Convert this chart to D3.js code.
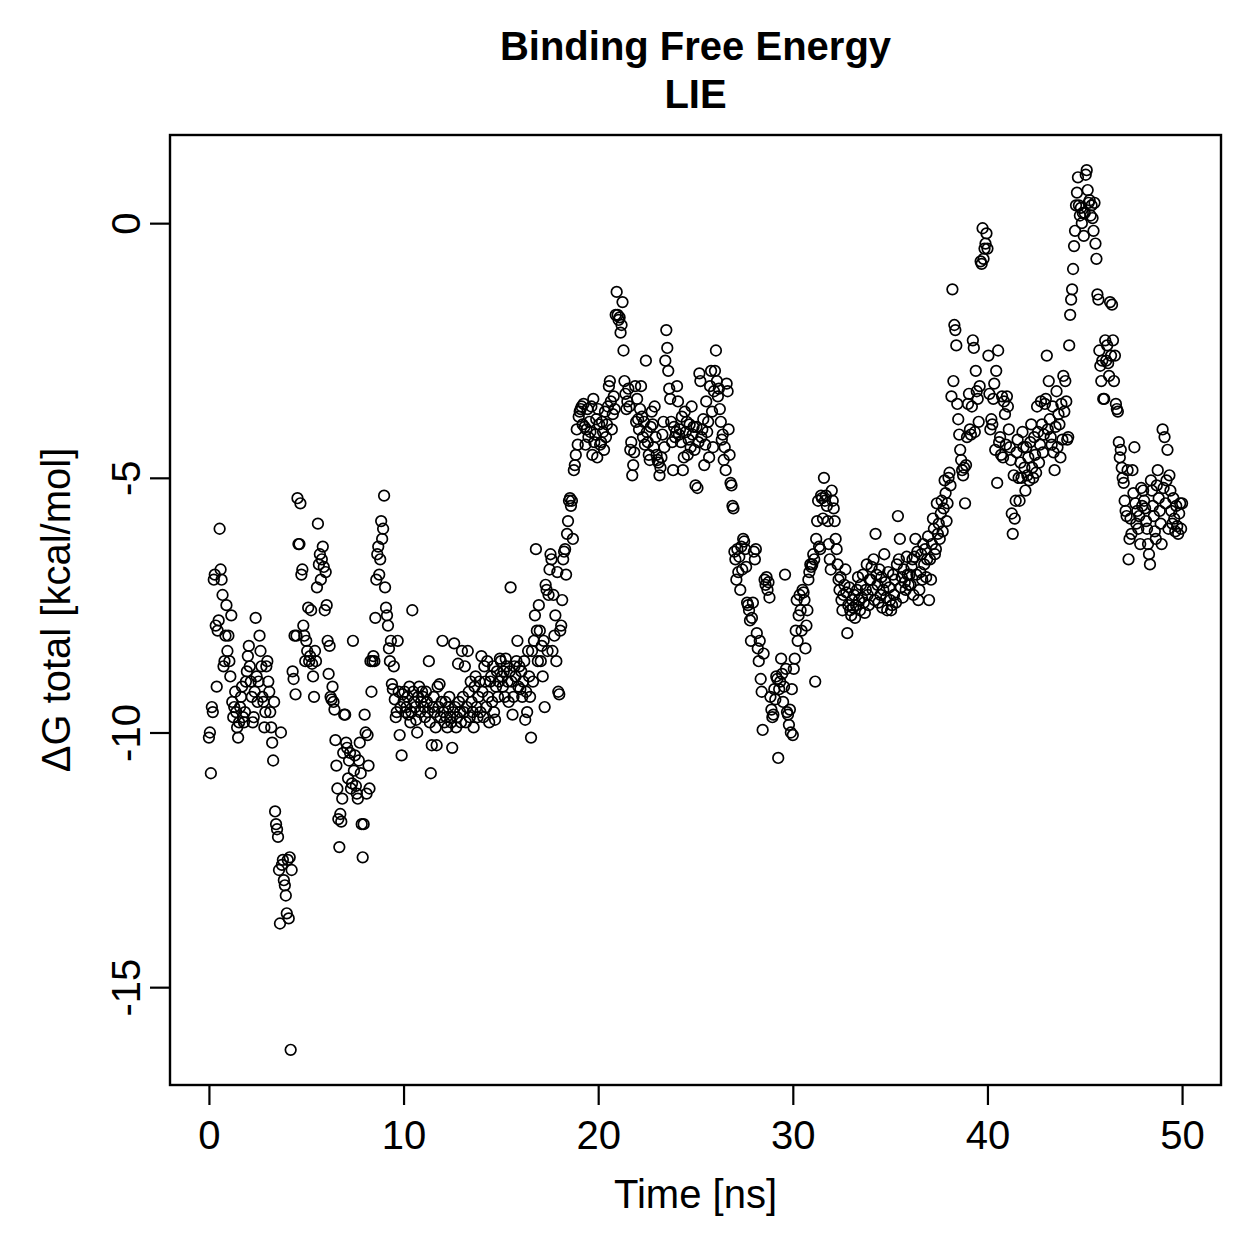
<!DOCTYPE html>
<html>
<head>
<meta charset="utf-8">
<title>Binding Free Energy - LIE</title>
<script src="https://cdn.jsdelivr.net/npm/d3@7"></script>
<style>
  body { margin: 0; background: #fff; }
  text { font-family: "Liberation Sans", Arial, Helvetica, sans-serif; }
</style>
</head>
<body>
<div id="chart"></div>
<script>
// LIE binding free energy trace, one frame every 0.05 ns
var timeStep = 0.05;
var xTicks = [0, 10, 20, 30, 40, 50];
var yTicks = [0, -5, -10, -15];
var titleLines = ["Binding Free Energy", "LIE"];
var xLabel = "Time [ns]";
var yLabel = "\u0394G total [kcal/mol]";

// dG values, 20 per ns
var dG = [
  -10.1, -10.0, -10.8, -9.5, -9.6, -7.0, -6.9, -7.9, -9.1, -8.0, -7.8, -6.0, -6.8, -7.0, -7.3, -8.7, -8.6, -8.1, -7.5, -8.4,
  -8.1, -8.6, -8.9, -7.7, -9.4, -9.7, -9.5, -9.2, -9.6, -9.9, -10.1, -9.8, -9.5, -9.3, -9.1, -9.7, -9.8, -9.6, -9.0, -8.8,
  -8.5, -8.3, -8.7, -9.0, -9.3, -9.8, -9.7, -9.2, -7.75, -8.9, -9.4, -9.0, -8.1, -8.4, -8.7, -9.3, -9.4, -9.9, -9.6, -8.7,
  -8.6, -9.0, -9.2, -9.6, -9.9, -10.2, -10.55, -9.4, -11.55, -11.8, -11.9, -12.05, -12.7, -13.75, -10.0, -12.6, -12.5, -12.9, -13.0, -13.2,
  -13.55, -12.5, -13.65, -12.45, -16.23, -12.7, -8.8, -8.95, -8.1, -9.25, -8.1, -5.4, -6.3, -6.3, -5.5, -6.9, -6.8, -7.9, -8.1, -8.6,
  -8.2, -8.4, -7.55, -8.6, -8.5, -7.6, -8.65, -8.9, -9.3, -8.4, -8.6, -7.15, -5.9, -6.7, -6.5, -7.0, -6.6, -6.35, -6.75, -7.6,
  -6.85, -7.5, -8.2, -8.85, -8.3, -9.3, -9.35, -9.1, -9.4, -9.55, -10.15, -10.65, -11.1, -11.7, -12.25, -11.6, -11.75, -11.3, -10.4, -9.65,
  -9.65, -10.2, -10.3, -10.9, -10.55, -10.4, -11.1, -11.0, -8.2, -10.75, -10.45, -11.05, -11.2, -11.3, -10.55, -10.2, -10.8, -11.8, -12.45, -11.8,
  -9.65, -10.0, -11.2, -10.05, -10.65, -11.1, -8.6, -9.2, -8.6, -8.5, -8.6, -7.75, -7.0, -6.5, -6.35, -6.9, -6.6, -5.85, -6.2, -6.0,
  -5.35, -7.15, -7.55, -7.7, -7.9, -8.35, -8.6, -8.2, -9.05, -9.15, -8.7, -9.35, -9.7, -9.6, -8.2, -9.2, -10.05, -9.5, -10.45, -9.25,
  -9.4, -9.2, -9.6, -9.5, -9.3, -9.65, -9.1, -9.8, -9.6, -7.6, -9.2, -9.4, -9.5, -9.75, -10.0, -9.3, -9.1, -9.6, -9.4, -9.2,
  -9.3, -9.5, -9.7, -9.2, -9.4, -9.6, -8.6, -9.8, -10.8, -10.25, -9.5, -9.3, -9.6, -9.9, -10.25, -9.1, -9.5, -9.05, -9.7, -9.4,
  -8.2, -9.6, -9.8, -9.4, -9.7, -9.9, -9.5, -9.3, -9.7, -9.8, -10.3, -9.6, -8.25, -9.5, -9.9, -9.7, -8.65, -9.4, -9.6, -9.8,
  -8.4, -9.3, -9.6, -8.7, -9.8, -9.5, -8.4, -9.2, -9.7, -9.0, -9.4, -9.6, -9.9, -9.1, -8.9, -9.5, -9.7, -9.3, -9.0, -9.6,
  -8.5, -9.2, -9.7, -8.7, -9.0, -9.5, -8.6, -9.3, -9.8, -9.0, -8.9, -9.4, -8.7, -9.6, -9.75, -9.1, -8.8, -9.3, -9.0, -8.55,
  -8.6, -8.9, -9.1, -8.8, -9.3, -8.55, -8.7, -9.0, -9.4, -8.8, -7.15, -9.0, -9.65, -9.3, -8.7, -8.9, -8.6, -8.2, -9.1, -8.7,
  -9.15, -8.8, -9.3, -9.0, -8.6, -9.75, -9.2, -9.6, -8.4, -8.9, -9.3, -10.1, -8.4, -9.0, -8.2, -7.7, -6.4, -8.0, -8.6, -7.5,
  -8.0, -8.6, -8.3, -8.9, -8.2, -9.5, -7.1, -7.2, -8.4, -7.3, -6.8, -6.5, -6.6, -8.4, -7.3, -8.1, -7.7, -8.6, -6.85, -9.2,
  -9.25, -8.0, -7.9, -7.4, -6.6, -6.45, -6.4, -6.9, -6.1, -5.85, -5.45, -5.4, -5.55, -5.45, -6.2, -4.85, -4.75, -4.55, -4.05, -4.35,
  -3.8, -3.7, -3.65, -3.6, -3.95, -3.55, -4.0, -4.35, -4.05, -3.65, -4.2, -3.9, -4.1, -3.6, -4.55, -3.45, -4.3, -4.15, -3.85, -4.6,
  -3.65, -3.95, -4.35, -4.3, -3.9, -4.1, -4.45, -3.7, -4.2, -3.95, -3.6, -3.2, -3.1, -3.5, -4.05, -3.75, -3.4, -3.65, -1.8, -1.35,
  -1.8, -1.9, -1.85, -2.15, -2.0, -1.55, -2.5, -3.1, -3.35, -3.65, -3.5, -3.25, -3.6, -4.45, -4.3, -4.95, -4.75, -4.5, -3.2, -3.9,
  -3.45, -3.85, -4.05, -3.65, -3.2, -3.8, -4.2, -3.9, -4.35, -2.7, -4.1, -4.3, -4.55, -4.65, -4.0, -3.7, -3.95, -4.4, -3.6, -4.2,
  -4.55, -4.65, -4.7, -4.95, -4.8, -4.6, -4.15, -3.9, -4.4, -2.7, -2.1, -2.45, -2.9, -3.25, -3.45, -3.9, -4.3, -4.85, -4.0, -4.2,
  -4.1, -3.2, -3.5, -4.15, -4.05, -4.3, -3.8, -4.85, -4.6, -3.7, -4.1, -3.9, -4.55, -4.25, -3.95, -4.4, -3.6, -4.15, -4.0, -4.45,
  -5.15, -4.0, -5.2, -4.3, -2.95, -3.1, -4.2, -4.05, -3.85, -4.75, -4.35, -3.5, -4.1, -3.9, -4.6, -3.2, -2.9, -3.7, -4.4, -3.3,
  -2.9, -2.5, -3.1, -3.4, -3.25, -3.65, -3.9, -4.25, -4.15, -4.65, -4.4, -4.85, -3.15, -3.3, -4.05, -4.55, -5.1, -5.15, -5.55, -5.6,
  -6.45, -6.6, -7.0, -6.4, -6.85, -6.55, -7.2, -6.35, -6.8, -6.2, -6.25, -6.4, -6.75, -7.45, -7.5, -7.6, -7.8, -8.2, -7.75, -7.45,
  -6.45, -6.6, -6.4, -8.05, -8.35, -8.6, -8.2, -8.95, -9.2, -9.95, -8.45, -7.0, -7.1, -6.95, -7.2, -7.05, -7.35, -9.3, -9.55, -9.7,
  -9.65, -9.15, -9.35, -8.9, -8.95, -10.5, -9.15, -9.0, -8.55, -8.85, -9.4, -9.1, -6.9, -8.75, -9.6, -9.65, -9.85, -9.55, -10.0, -9.15,
  -10.05, -8.75, -8.55, -8.0, -7.4, -8.2, -7.7, -7.3, -7.6, -8.0, -7.2, -7.25, -7.4, -8.35, -7.9, -7.6, -7.0, -6.85, -6.7, -6.75,
  -6.7, -6.5, -6.6, -9.0, -6.2, -5.85, -5.45, -6.35, -6.4, -5.35, -5.4, -5.8, -5.0, -5.45, -5.35, -5.55, -5.85, -6.3, -6.6, -6.8,
  -5.25, -5.45, -5.6, -5.85, -6.2, -6.4, -6.7, -7.0, -7.2, -6.95, -7.4, -7.6, -7.3, -7.1, -6.8, -7.25, -8.05, -7.5, -7.15, -7.6,
  -7.7, -7.4, -7.55, -7.3, -7.75, -7.5, -7.2, -6.95, -7.4, -7.6, -7.1, -7.35, -6.9, -7.45, -7.65, -7.2, -6.7, -7.3, -7.5, -7.0,
  -7.0, -6.75, -7.2, -6.6, -7.4, -6.1, -6.9, -7.1, -7.45, -6.8, -7.3, -6.95, -7.55, -7.2, -6.5, -7.05, -7.35, -7.6, -6.85, -7.15,
  -7.4, -7.6, -7.5, -6.9, -7.3, -7.0, -7.45, -6.7, -5.75, -6.6, -6.2, -7.15, -6.95, -7.35, -6.8, -7.05, -7.2, -6.55, -6.9, -7.1,
  -6.9, -7.1, -6.75, -6.6, -7.3, -6.55, -6.2, -6.9, -6.45, -7.4, -7.2, -6.85, -6.5, -7.0, -6.3, -6.7, -6.4, -6.95, -6.6, -6.15,
  -7.4, -6.6, -7.0, -6.3, -5.8, -6.0, -6.5, -6.4, -5.5, -6.1, -5.9, -6.2, -5.7, -5.45, -6.05, -5.6, -5.05, -5.3, -5.85, -5.5,
  -5.0, -4.9, -5.15, -3.4, -1.3, -3.1, -2.0, -2.1, -2.4, -3.55, -3.85, -4.15, -4.45, -4.65, -4.85, -4.95, -4.8, -5.5, -4.75, -4.2,
  -3.55, -3.35, -4.05, -4.15, -3.6, -2.3, -2.45, -4.1, -2.9, -3.3, -3.45, -3.9, -3.2, -0.75, -0.8, -0.1, -0.7, -0.5, -0.4, -0.2,
  -0.5, -2.6, -3.35, -4.05, -3.85, -3.95, -3.45, -3.15, -4.45, -2.9, -5.1, -2.5, -4.3, -4.2, -4.55, -3.4, -4.6, -3.5, -3.75, -4.35,
  -3.4, -3.6, -4.05, -4.4, -4.65, -5.7, -6.1, -4.95, -5.8, -5.45, -4.5, -4.25, -5.0, -5.45, -4.7, -5.0, -4.1, -4.4, -4.8, -5.25,
  -4.4, -4.95, -4.6, -5.05, -4.3, -3.95, -4.8, -5.0, -4.2, -4.55, -4.9, -3.6, -4.1, -4.7, -4.35, -3.5, -3.95, -4.5, -4.15, -3.55,
  -3.45, -2.6, -4.05, -3.1, -3.85, -4.2, -4.35, -3.6, -4.5, -4.85, -4.0, -3.3, -4.4, -3.75, -3.95, -4.6, -3.55, -4.25, -3.0, -3.7,
  -3.1, -3.5, -4.25, -4.2, -2.4, -1.8, -1.5, -1.3, -0.9, -0.45, -0.15, 0.35, 0.6, 0.9, 0.35, 0.15, 0.3, 0.0, 0.2, -0.25,
  0.2, 0.95, 1.04, 0.65, 0.4, 0.45, 0.15, 0.35, 0.1, -0.15, 0.4, -0.4, -0.7, -1.4, -1.5, -2.5, -2.8, -3.1, -2.7, -3.45,
  -3.45, -2.3, -2.7, -2.4, -2.75, -3.0, -1.55, -2.6, -1.6, -2.3, -3.1, -2.6, -3.55, -3.65, -3.7, -4.3, -4.6, -4.45, -4.8, -5.0,
  -5.1, -5.45, -5.65, -5.75, -4.85, -6.6, -6.2, -5.8, -6.1, -4.85, -5.3, -4.4, -5.5, -5.9, -5.65, -6.0, -5.75, -6.3, -5.2, -5.55,
  -5.25, -5.45, -5.6, -5.85, -6.0, -6.3, -6.5, -6.7, -5.05, -5.25, -5.55, -5.75, -6.05, -6.2, -5.15, -4.85, -5.4, -5.65, -5.9, -6.3,
  -4.05, -5.2, -4.2, -5.5, -5.05, -4.45, -6.0, -4.95, -5.25, -5.65, -5.9, -5.4, -5.8, -6.05, -5.55, -5.95, -6.1, -5.7, -5.5, -6.0,
  -5.5
];

var w = 1259;
var h = 1259;
// plot box, in pixels
var boxL = 170, boxR = 1221, boxT = 135, boxB = 1085;

var data = dG.map(function(v, i) {
  return { t: i * timeStep, g: v };
});

// R style axes: data range plus 4% each side
var xExt = d3.extent(data, function(d) { return d.t; });
var yExt = d3.extent(data, function(d) { return d.g; });
var xPad = (xExt[1] - xExt[0]) * 0.04;
var yPad = (yExt[1] - yExt[0]) * 0.04;

var x = d3.scaleLinear()
  .domain([xExt[0] - xPad, xExt[1] + xPad])
  .range([boxL, boxR]);

var y = d3.scaleLinear()
  .domain([yExt[0] - yPad, yExt[1] + yPad])
  .range([boxB, boxT]);

// R prints a plain hyphen for negatives
var plain = function(d) { return String(d); };

var svg = d3.select("#chart")
  .append("svg")
  .attr("width", w)
  .attr("height", h)
  .style("background", "#fff");

// points
svg.append("g")
  .selectAll("circle")
  .data(data)
  .enter()
  .append("circle")
  .attr("cx", function(d) { return x(d.t); })
  .attr("cy", function(d) { return y(d.g); })
  .attr("r", 5.3)
  .style("fill", "none")
  .style("stroke", "#000")
  .style("stroke-width", 1.7);

// x axis
var gx = svg.append("g")
  .attr("transform", "translate(0," + boxB + ")")
  .call(d3.axisBottom(x).tickValues(xTicks).tickSize(20).tickFormat(plain));
gx.select(".domain").remove();
gx.selectAll(".tick line").style("stroke", "#000").style("stroke-width", 2.2);
gx.selectAll(".tick text")
  .attr("y", 64)
  .attr("dy", 0)
  .style("font-size", "40px")
  .style("fill", "#000");

// y axis, labels turned like R's las=0
var gy = svg.append("g")
  .attr("transform", "translate(" + boxL + ",0)")
  .call(d3.axisLeft(y).tickValues(yTicks).tickSize(20).tickFormat(plain));
gy.select(".domain").remove();
gy.selectAll(".tick line").style("stroke", "#000").style("stroke-width", 2.2);
gy.selectAll(".tick text")
  .attr("transform", "rotate(-90)")
  .attr("x", 0)
  .attr("y", -30)
  .attr("dy", 0)
  .attr("text-anchor", "middle")
  .style("font-size", "40px")
  .style("fill", "#000");

// box
svg.append("rect")
  .attr("x", boxL)
  .attr("y", boxT)
  .attr("width", boxR - boxL)
  .attr("height", boxB - boxT)
  .style("fill", "none")
  .style("stroke", "#000")
  .style("stroke-width", 2.4);

// titles
var cx = (boxL + boxR) / 2;
svg.selectAll(".title")
  .data(titleLines)
  .enter()
  .append("text")
  .attr("class", "title")
  .attr("x", cx)
  .attr("y", function(d, i) { return 60 + i * 48; })
  .attr("text-anchor", "middle")
  .style("font-size", "40px")
  .style("font-weight", "bold")
  .text(function(d) { return d; });

svg.append("text")
  .attr("x", cx)
  .attr("y", 1208)
  .attr("text-anchor", "middle")
  .style("font-size", "40px")
  .text(xLabel);

svg.append("text")
  .attr("transform", "translate(70," + ((boxT + boxB) / 2) + ") rotate(-90)")
  .attr("text-anchor", "middle")
  .style("font-size", "40px")
  .text(yLabel);
</script>
</body>
</html>
